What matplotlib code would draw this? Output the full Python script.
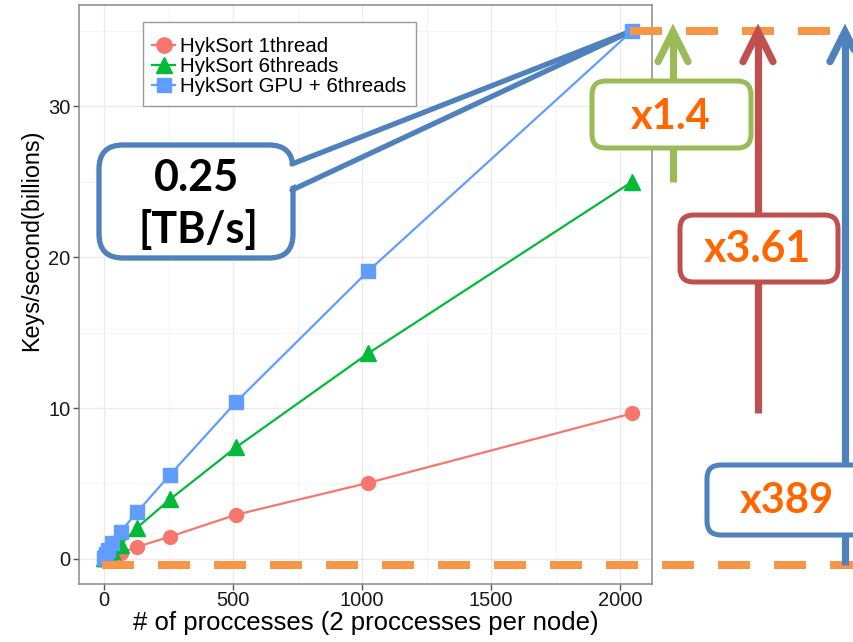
import matplotlib
matplotlib.use("Agg")
import matplotlib.pyplot as plt
from matplotlib.lines import Line2D
from matplotlib.patches import FancyBboxPatch, Polygon

# ---------------- data ----------------
procs = [1, 2, 4, 8, 16, 32, 64, 128, 256, 512, 1024, 2048]
hyk_1thread = [0.02, 0.03, 0.05, 0.08, 0.12, 0.2, 0.4, 0.8, 1.48, 2.93, 5.04, 9.65]
hyk_6threads = [0.03, 0.05, 0.08, 0.14, 0.27, 0.5, 0.95, 2.07, 3.95, 7.4, 13.62, 25.0]
hyk_gpu = [0.04, 0.08, 0.15, 0.3, 0.6, 1.05, 1.8, 3.1, 5.58, 10.4, 19.07, 35.0]
labels = ["HykSort 1thread", "HykSort 6threads", "HykSort GPU + 6threads"]
baseline_level = -0.4
speedups = ["x1.4", "x3.61", "x389"]
callout_text = ["0.25", "[TB/s]"]

W, H = 854, 642
fig = plt.figure(figsize=(W / 100, H / 100), dpi=100)
plt.rcParams['font.family'] = ['Liberation Sans', 'DejaVu Sans']

def P(x, y):
    return (x / W, 1 - y / H)

ax = fig.add_axes([79 / W, 1 - 584 / H, (652 - 79) / W, (584 - 5) / H])
ax.set_xlim(-97, 2124)
ax.set_ylim(-1.66, 36.7)
ax.set_xticks([0, 500, 1000, 1500, 2000])
ax.set_yticks([0, 10, 20, 30])
ax.set_xticks([250, 750, 1250, 1750], minor=True)
ax.set_yticks([5, 15, 25, 35], minor=True)
ax.grid(which='major', color='#EBEBEB', lw=1.0)
ax.grid(which='minor', color='#F4F4F4', lw=0.7)
ax.tick_params(which='minor', length=0)
ax.tick_params(which='major', length=4, width=1, color='#555555', labelsize=14.5,
               labelcolor='#1a1a1a', pad=2)
ax.tick_params(axis='x', which='major', pad=1)
for s in ax.spines.values():
    s.set_color('#8a8a8a')
    s.set_linewidth(1.1)
ax.set_axisbelow(True)

ax.set_xlabel("# of proccesses (2 proccesses per node)", fontsize=18.5, labelpad=0.5)
ax.set_ylabel("Keys/second(billions)", fontsize=16.8)
ax.yaxis.set_label_coords(-0.063, 0.594)

cols = ['#F8766D', '#00BA38', '#619CFF']
ax.plot(procs, hyk_1thread, '-o', color=cols[0], lw=1.6, ms=10, label=labels[0], zorder=3)
ax.plot(procs, hyk_6threads, '-^', color=cols[1], lw=1.6, ms=11, label=labels[1], zorder=3)
ax.plot(procs, hyk_gpu, '-s', color=cols[2], lw=1.6, ms=9.5, label=labels[2], zorder=3)

leg = ax.legend(loc='upper left', bbox_to_anchor=P(143, 22), bbox_transform=fig.transFigure,
                fontsize=14.8, frameon=True, fancybox=False, edgecolor='#999999',
                handlelength=1.1, handletextpad=0.25, labelspacing=0.05, borderpad=0.45,
                borderaxespad=0, framealpha=1, title=' ', title_fontsize=4, markerscale=1.1)
leg.get_frame().set_linewidth(1.0)

def ypx(v):
    return H - ax.transData.transform((0, v))[1]

top_y = ypx(max(hyk_gpu))
base_y = ypx(baseline_level)
tip_x, _ = ax.transData.transform((procs[-1], 0))

orange = '#F79646'
lw_dash = 8 * 0.72
for (x0, x1, yy) in [(102, W + 5, base_y), (630, W + 5, top_y)]:
    ln = Line2D([x0 / W, x1 / W], [1 - yy / H, 1 - yy / H], transform=fig.transFigure,
                color=orange, lw=lw_dash, dashes=(4, 3), solid_capstyle='butt',
                dash_capstyle='butt', zorder=6, clip_on=False)
    ax.add_artist(ln)

# callout box "0.25 [TB/s]"
blue_dk = '#4F81BD'
cb = FancyBboxPatch(P(99, 258), (293 - 99) / W, (258 - 145) / H,
                    boxstyle='round,pad=0,rounding_size=0.028', transform=fig.transFigure,
                    fc='white', ec=blue_dk, lw=3.8, zorder=1.5, clip_on=False,
                    mutation_aspect=W / H)
ax.add_patch(cb)
tip = (tip_x, top_y)
wedge = Polygon([P(287, 166), P(*tip), P(287, 188)], closed=True, transform=fig.transFigure,
                fc='white', ec='none', zorder=1.6, clip_on=False)
ax.add_patch(wedge)
for sy in (164, 190):
    ln = Line2D([292 / W, tip[0] / W], [1 - sy / H, 1 - tip[1] / H], transform=fig.transFigure,
                color=blue_dk, lw=3.8, solid_capstyle='round', zorder=1.7, clip_on=False)
    ax.add_artist(ln)
ax.text(*P(197, 178), callout_text[0], transform=fig.transFigure, ha='center', va='center',
        fontsize=31, fontweight='bold', family=['Lato', 'DejaVu Sans'], color='black', zorder=2)
ax.text(*P(198, 230), callout_text[1], transform=fig.transFigure, ha='center', va='center',
        fontsize=31, fontweight='bold', family=['Lato', 'DejaVu Sans'], color='black', zorder=2)

# right-hand speedup arrows
arrow_specs = [
    ('#9BBB59', 673, ypx(hyk_6threads[-1]), (592, 81, 751, 148), (671, 117), 30),
    ('#C0504D', 758, ypx(hyk_1thread[-1]), (680, 215, 838, 282), (758, 249), 31),
    (blue_dk, 845, base_y, (707, 465, 880, 535), (787, 501), 30),
]
txt_orange = '#FF6600'
for (c, x, yb, box, tc, fs), label in zip(arrow_specs, speedups):
    yt = top_y + 1
    fig.add_artist(Line2D([x / W, x / W], [1 - yb / H, 1 - (yt + 3) / H], transform=fig.transFigure,
                          color=c, lw=5.2, solid_capstyle='butt', zorder=4))
    fig.add_artist(Line2D([(x - 15) / W, x / W, (x + 15) / W],
                          [1 - (yt + 30) / H, 1 - yt / H, 1 - (yt + 30) / H],
                          transform=fig.transFigure, color=c, lw=5.2,
                          solid_capstyle='round', solid_joinstyle='miter', zorder=4))
    x0, y0, x1, y1 = box
    fig.add_artist(FancyBboxPatch(P(x0, y1), (x1 - x0) / W, (y1 - y0) / H,
                                  boxstyle='round,pad=0,rounding_size=0.016',
                                  transform=fig.transFigure, fc='white', ec=c, lw=3.6,
                                  zorder=5, mutation_aspect=W / H))
    fig.text(*P(*tc), label, ha='center', va='center', fontsize=fs, fontweight='bold',
             family=['Lato', 'DejaVu Sans'], color=txt_orange, zorder=6)

fig.savefig('out.png', dpi=100)
